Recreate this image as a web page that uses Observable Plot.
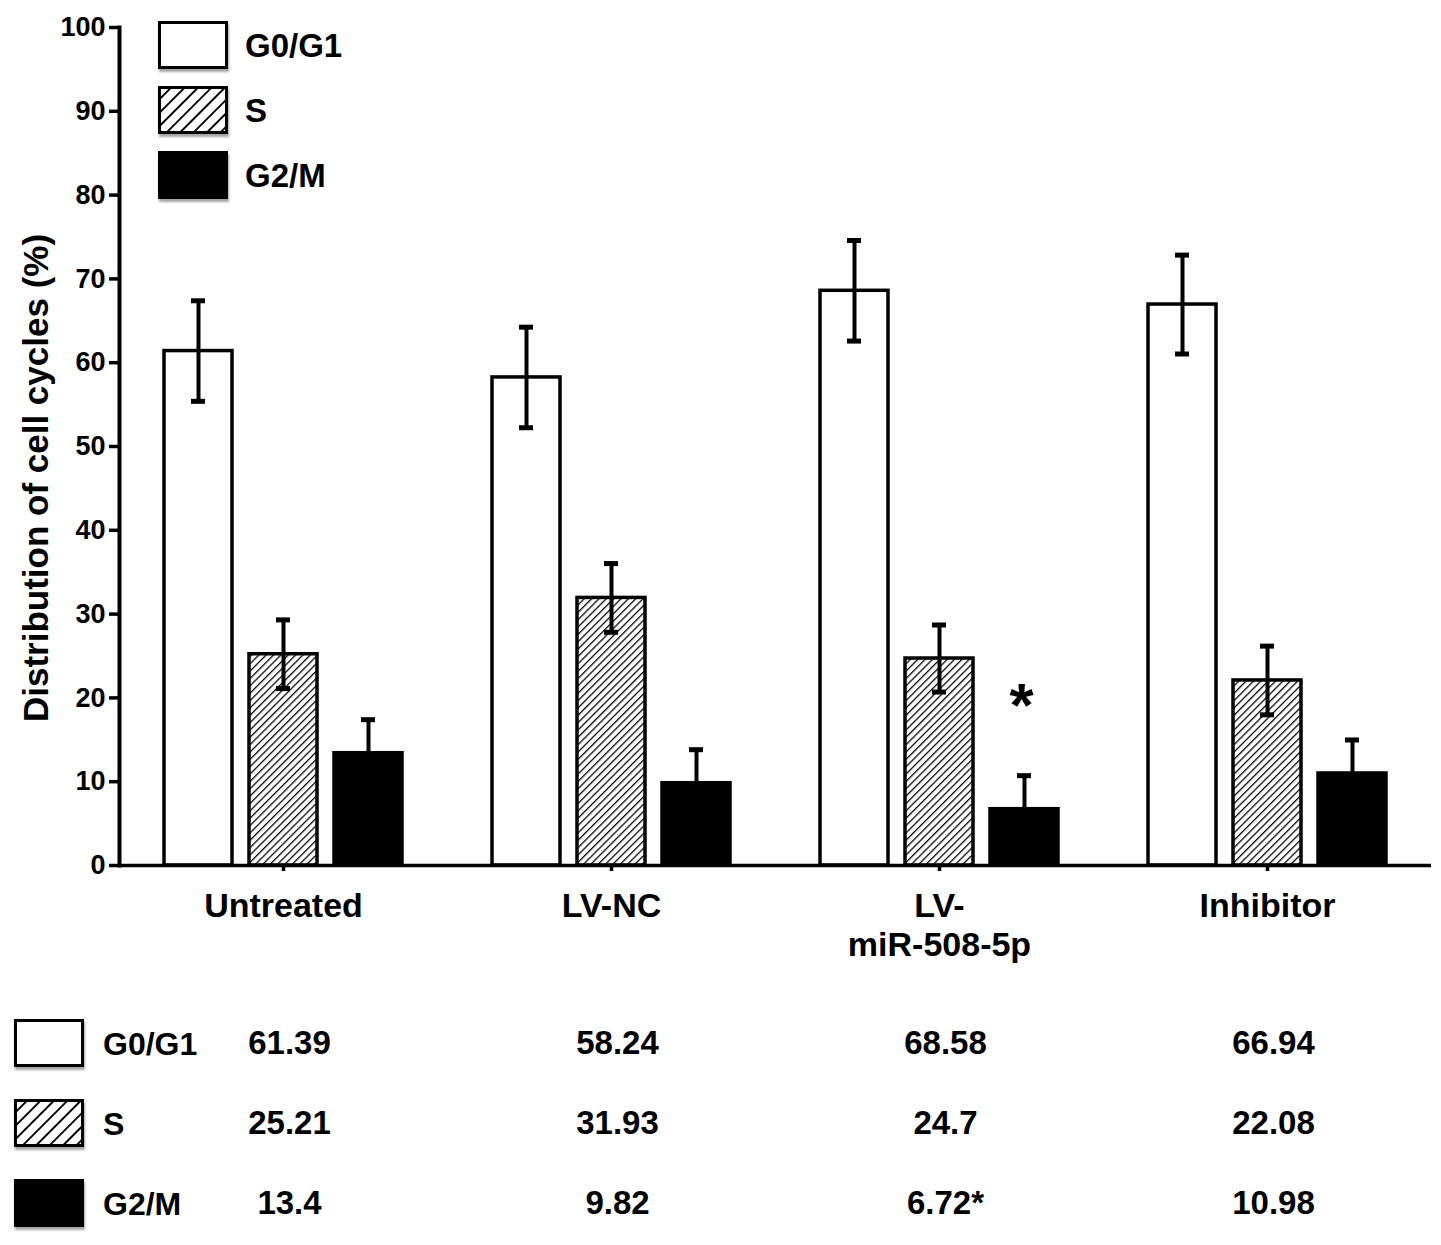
<!DOCTYPE html>
<html>
<head>
<meta charset="utf-8">
<script src="https://cdn.jsdelivr.net/npm/d3@7"></script>
<script src="https://cdn.jsdelivr.net/npm/@observablehq/plot@0.6"></script>
<style>
  body { margin: 0; background: #fff; }
  #wrap { position: relative; width: 1441px; height: 1245px; font-family: "Liberation Sans", Arial, sans-serif; font-weight: bold; color: #000; }
  #chart svg, #table svg { display: block; }
  .row { position: absolute; display: flex; align-items: center; }
  .row svg { display: block; filter: drop-shadow(1px 3px 1px rgba(0,0,0,0.35)); }
  .row span { position: absolute; white-space: nowrap; }
  #ylabel { position: absolute; left: 35px; top: 478px; font-size: 35px; white-space: nowrap;
            transform: translate(-50%, -50%) rotate(-90deg); line-height: 1; }
</style>
</head>
<body>
<svg width="0" height="0" style="position:absolute">
  <defs>
    <pattern id="hatch" width="5.2" height="5.2" patternUnits="userSpaceOnUse" patternTransform="rotate(45)">
      <rect width="5.2" height="5.2" fill="#fff"/>
      <line x1="0" y1="0" x2="0" y2="5.2" stroke="#000" stroke-width="2.5"/>
    </pattern>
    <pattern id="hatchBig" width="9.5" height="9.5" patternUnits="userSpaceOnUse" patternTransform="rotate(45)">
      <rect width="9.5" height="9.5" fill="#fff"/>
      <line x1="0" y1="0" x2="0" y2="9.5" stroke="#000" stroke-width="3.8"/>
    </pattern>
  </defs>
</svg>
<div id="wrap">
  <div id="chart"></div>
  <div id="table"></div>
</div>
<script>
const groups = ["Untreated", "LV-NC", "LV-\nmiR-508-5p", "Inhibitor"];
const phases = ["G0/G1", "S", "G2/M"];
const g0g1 = [61.39, 58.24, 68.58, 66.94];
const sPhase = [25.21, 31.93, 24.7, 22.08];
const g2m = [13.4, 9.82, 6.72, 10.98];
const g0g1Sd = [6.0, 6.0, 6.0, 5.9];
const sSd = [4.1, 4.1, 4.0, 4.1];
const g2mSd = [4.0, 4.0, 4.0, 4.0];
const g2mStar = [false, false, true, false];
const starY = 20;
const yTicks = [0, 10, 20, 30, 40, 50, 60, 70, 80, 90, 100];
const yLabel = "Distribution of cell cycles (%)";

const font = "Liberation Sans, Arial, sans-serif";
const barFills = ["#fff", "url(#hatch)", "#000"];
const swatchFills = ["#fff", "url(#hatchBig)", "#000"];

const series = [g0g1, sPhase, g2m];
const sds = [g0g1Sd, sSd, g2mSd];
const rows = groups.flatMap((g, i) => phases.map((p, j) => ({
  group: g, phase: p, value: series[j][i], sd: sds[j][i], star: j === 2 && g2mStar[i]
})));

const chart = Plot.plot({
  width: 1441,
  height: 975,
  marginTop: 27,
  marginRight: 9,
  marginBottom: 110,
  marginLeft: 118,
  style: {fontFamily: font, fontWeight: "bold", color: "#000", background: "transparent", overflow: "visible"},
  fx: {domain: groups, padding: 0},
  x: {domain: phases, paddingInner: 0.205, paddingOuter: 0.5235, axis: null},
  y: {domain: [0, 100]},
  color: {domain: phases, range: barFills},
  marks: [
    Plot.barY(rows, {fx: "group", x: "phase", y: "value", fill: "phase", stroke: "#000", strokeWidth: 3.5}),
    Plot.ruleX(rows, {fx: "group", x: "phase", y1: d => d.value - d.sd, y2: d => d.value + d.sd, stroke: "#000", strokeWidth: 4}),
    Plot.tickY(rows, {fx: "group", x: "phase", y: d => d.value + d.sd, stroke: "#000", strokeWidth: 5, insetLeft: 27, insetRight: 27}),
    Plot.tickY(rows, {fx: "group", x: "phase", y: d => d.value - d.sd, stroke: "#000", strokeWidth: 5, insetLeft: 27, insetRight: 27}),
    Plot.ruleY([0], {stroke: "#000", strokeWidth: 3.5}),
    Plot.text(rows.filter(d => d.star), {fx: "group", x: "phase", y: () => starY, text: () => "*", fontSize: 62, dy: 8, dx: -3}),
    Plot.frame({anchor: "left", facetAnchor: "left", stroke: "#000", strokeWidth: 4}),
    Plot.axisY({ticks: yTicks, tickSize: 10, tickPadding: 4, strokeWidth: 3.5, fontSize: 27, label: null}),
    Plot.axisFx({anchor: "bottom", tickSize: 6, tickPadding: 18, strokeWidth: 3.5, fontSize: 34, lineHeight: 1.15, label: null})
  ]
});
d3.select("#chart").append(() => chart);
d3.select("#wrap").append("div").attr("id", "ylabel").text(yLabel);

const table = Plot.plot({
  width: 1441,
  height: 270,
  marginTop: 0,
  marginRight: 9,
  marginBottom: 0,
  marginLeft: 118,
  style: {fontFamily: font, fontWeight: "bold", color: "#000", background: "transparent"},
  fx: {domain: groups, padding: 0, axis: null},
  y: {type: "point", domain: phases, range: [68, 228], padding: 0, axis: null},
  marks: [
    Plot.text(rows, {fx: "group", y: "phase", text: d => d.value + (d.star ? "*" : ""), fontSize: 33, dx: 6})
  ]
});
d3.select("#table").append(() => table);

// legends (top, inside plot) and table row headers
function legend(left, top, step, textLeft, fontSize) {
  const wrap = d3.select("#wrap");
  phases.forEach((p, i) => {
    const row = wrap.append("div").attr("class", "row")
      .style("left", left + "px").style("top", (top + i * step) + "px");
    const s = row.append("svg").attr("width", 72).attr("height", 50);
    s.append("rect").attr("x", 1.5).attr("y", 1.5).attr("width", 67).attr("height", 45)
      .attr("fill", swatchFills[i]).attr("stroke", "#000").attr("stroke-width", 3);
    row.append("span").text(p)
      .style("left", (textLeft - left) + "px")
      .style("font-size", fontSize + "px");
  });
}
legend(158, 21, 65, 245, 33);
legend(14, 1019, 80, 103, 32);
</script>
</body>
</html>
